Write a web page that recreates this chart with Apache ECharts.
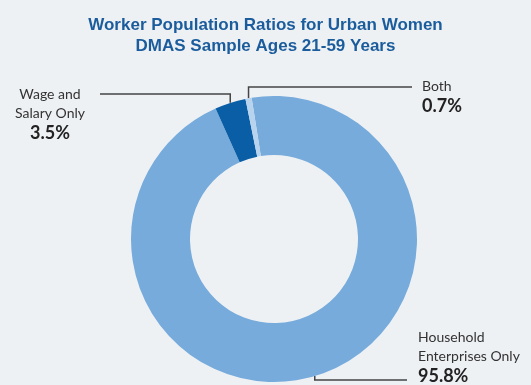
<!DOCTYPE html>
<html>
<head>
<meta charset="utf-8">
<script src="https://cdn.jsdelivr.net/npm/echarts@6/dist/echarts.min.js"></script>
<style>
  html, body { margin: 0; padding: 0; background: #eef1f4; }
  #chart { width: 531px; height: 385px; }
</style>
</head>
<body>
<div id="chart"></div>
<script>
// datos de la dona
const sliceNames = ['Household\nEnterprises Only', 'Wage and\nSalary Only', 'Both'];
const sliceValues = [95.8, 3.5, 0.7];
const sliceColors = ['#76abdc', '#0a5ea6', '#b8d3ee'];

const titleText = 'Worker Population Ratios for Urban Women\nDMAS Sample Ages 21-59 Years';

const chart = echarts.init(document.getElementById('chart'));

// posiciones de las etiquetas (x, y superior, alineacion)
const labelSpots = [
    { x: 418, y: 328, align: 'left' },
    { x: 50, y: 85, align: 'center' },
    { x: 422, y: 77, align: 'left' }
];

function formatLabel(params) {
    const lines = params.name.split('\n').map(s => '{n|' + s + '}').join('\n');
    return lines + '\n{p|' + params.value.toFixed(1) + '%}';
}

const options = {
    backgroundColor: '#eef1f4',
    title: {
        text: titleText,
        left: 'center',
        top: 10,
        textStyle: {
            fontFamily: 'Liberation Sans',
            fontSize: 17,
            fontWeight: 'bold',
            color: '#1a5c9c',
            lineHeight: 21
        }
    },
    series: [{
        type: 'pie',
        center: [274, 239],
        radius: [84, 143],
        startAngle: 99,
        clockwise: true,
        silent: true,
        data: sliceNames.map((n, i) => ({
            name: n,
            value: sliceValues[i],
            itemStyle: { color: sliceColors[i] }
        })),
        label: {
            show: true,
            position: 'outside',
            formatter: formatLabel,
            rich: {
                n: { fontFamily: 'Lato', fontSize: 14, color: '#333', lineHeight: 19 },
                p: { fontFamily: 'Lato', fontSize: 18, fontWeight: 'bold', color: '#222', lineHeight: 20 }
            }
        },
        labelLine: {
            show: true,
            lineStyle: { color: '#444', width: 1.5 }
        },
        labelLayout: function (params) {
            const i = params.dataIndex;
            const spot = labelSpots[i];
            const p0 = params.labelLinePoints ? params.labelLinePoints[0] : [0, 0];
            let pts;
            if (i === 1) {
                pts = [[100, 94], [p0[0], 94], [p0[0], p0[1]]];
            } else if (i === 2) {
                pts = [[p0[0], p0[1]], [p0[0], 87], [412, 87]];
            } else {
                pts = [[p0[0], p0[1]], [p0[0], 380], [407, 380]];
            }
            return {
                x: spot.x,
                y: spot.y,
                align: spot.align,
                verticalAlign: 'top',
                labelLinePoints: pts
            };
        }
    }]
};

chart.setOption(options);
</script>
</body>
</html>
